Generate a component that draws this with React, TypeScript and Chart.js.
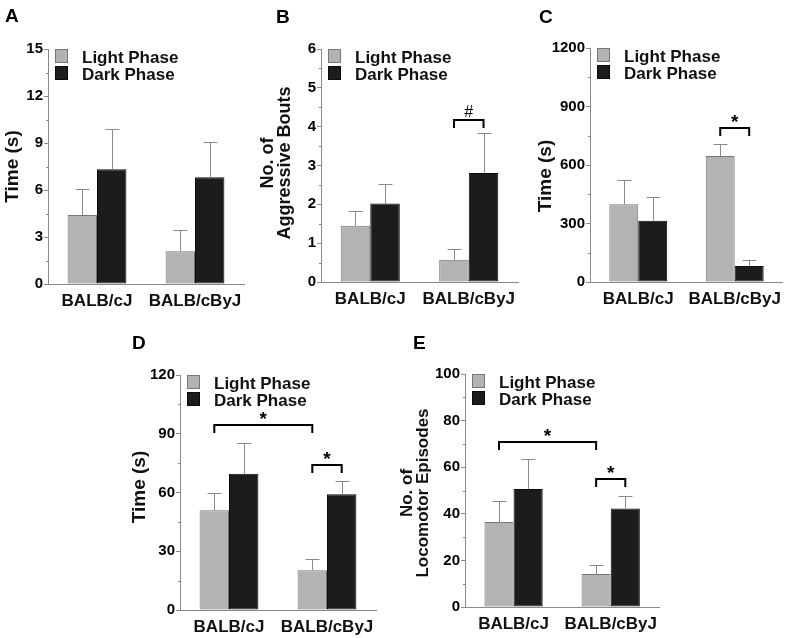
import React, { useEffect, useRef } from 'react';
import { Chart, registerables } from 'chart.js';

Chart.register(...registerables);
Chart.defaults.font.family = "'Liberation Sans', Arial, Helvetica, sans-serif";

// ---------- data ----------
const categories = ['BALB/cJ', 'BALB/cByJ'];
const seriesNames = ['Light Phase', 'Dark Phase'];

// Panel A — Time (s)
const aLight = [4.4, 2.09];
const aLightErr = [1.64, 1.35];
const aDark = [7.32, 6.81];
const aDarkErr = [2.58, 2.24];

// Panel B — No. of Aggressive Bouts
const bLight = [1.45, 0.57];
const bLightErr = [0.39, 0.29];
const bDark = [2.02, 2.81];
const bDarkErr = [0.5, 1.02];

// Panel C — Time (s)
const cLight = [399, 646];
const cLightErr = [122, 64];
const cDark = [314, 82];
const cDarkErr = [123, 29];

// Panel D — Time (s)
const dLight = [50.9, 20.3];
const dLightErr = [8.7, 5.9];
const dDark = [69.6, 59.1];
const dDarkErr = [15.8, 6.9];

// Panel E — No. of Locomotor Episodes
const eLight = [36.5, 14.2];
const eLightErr = [8.9, 3.7];
const eDark = [50.6, 42.3];
const eDarkErr = [12.9, 5.3];

// y-axis ranges: [max, major step, minor step]
const aAxis = [15, 3, 1.5];
const bAxis = [6, 1, 0.5];
const cAxis = [1200, 300, 150];
const dAxis = [120, 30, 15];
const eAxis = [100, 20, 10];

// significance brackets: from/to = [datasetIndex, categoryIndex]
type Bracket = { from: [number, number]; to: [number, number]; top: number; label: string };
const aBrackets: Bracket[] = [];
const bBrackets: Bracket[] = [{ from: [0, 1], to: [1, 1], top: 4.18, label: '#' }];
const cBrackets: Bracket[] = [{ from: [0, 1], to: [1, 1], top: 792, label: '*' }];
const dBrackets: Bracket[] = [
  { from: [0, 0], to: [0, 1], top: 94.3, label: '*' },
  { from: [0, 1], to: [1, 1], top: 73.9, label: '*' },
];
const eBrackets: Bracket[] = [
  { from: [0, 0], to: [0, 1], top: 70.8, label: '*' },
  { from: [0, 1], to: [1, 1], top: 54.9, label: '*' },
];

// ---------- style ----------
const LIGHT_FILL = '#b3b3b3';
const LIGHT_BORDER = '#767676';
const DARK_FILL = '#1c1c1c';
const DARK_BORDER = '#0a0a0a';
const AXIS = '#8a8a8a';
const ERR = '#8a8a8a';
const TEXT = '#111111';

type PanelCfg = {
  letter: string;
  letterX: number;
  letterY: number;
  left: number;
  top: number;
  width: number;
  height: number;
  plotL: number;
  plotR: number;
  plotT: number;
  plotB: number;
  title: string[];
  titleSize: number;
  titleXs: number[];
  titleY: number;
  axis: number[];
  light: number[];
  lightErr: number[];
  dark: number[];
  darkErr: number[];
  brackets: Bracket[];
};

const panels: PanelCfg[] = [
  {
    letter: 'A', letterX: 5, letterY: 8,
    left: 0, top: 0, width: 255, height: 310,
    plotL: 48, plotR: 244, plotT: 49, plotB: 284,
    title: ['Time (s)'], titleSize: 19, titleXs: [13], titleY: 166.5,
    axis: aAxis, light: aLight, lightErr: aLightErr, dark: aDark, darkErr: aDarkErr, brackets: aBrackets,
  },
  {
    letter: 'B', letterX: 276, letterY: 9,
    left: 255, top: 0, width: 270, height: 310,
    plotL: 321, plotR: 518, plotT: 49, plotB: 282,
    title: ['No. of', 'Aggressive Bouts'], titleSize: 18, titleXs: [268.5, 284.7], titleY: 163,
    axis: bAxis, light: bLight, lightErr: bLightErr, dark: bDark, darkErr: bDarkErr, brackets: bBrackets,
  },
  {
    letter: 'C', letterX: 539, letterY: 9,
    left: 525, top: 0, width: 264, height: 310,
    plotL: 590, plotR: 785, plotT: 48, plotB: 282,
    title: ['Time (s)'], titleSize: 19, titleXs: [546], titleY: 176,
    axis: cAxis, light: cLight, lightErr: cLightErr, dark: cDark, darkErr: cDarkErr, brackets: cBrackets,
  },
  {
    letter: 'D', letterX: 132, letterY: 335,
    left: 125, top: 320, width: 265, height: 318,
    plotL: 180, plotR: 376, plotT: 375, plotB: 610,
    title: ['Time (s)'], titleSize: 19, titleXs: [140], titleY: 487,
    axis: dAxis, light: dLight, lightErr: dLightErr, dark: dDark, darkErr: dDarkErr, brackets: dBrackets,
  },
  {
    letter: 'E', letterX: 413, letterY: 335,
    left: 390, top: 320, width: 275, height: 318,
    plotL: 465, plotR: 661, plotT: 374, plotB: 607,
    title: ['No. of', 'Locomotor Episodes'], titleSize: 17, titleXs: [407, 423], titleY: 493,
    axis: eAxis, light: eLight, lightErr: eLightErr, dark: eDark, darkErr: eDarkErr, brackets: eBrackets,
  },
];

function makeOverlay(cfg: PanelCfg) {
  return {
    id: 'overlay' + cfg.letter,
    afterDraw(chart: any) {
      const ctx: CanvasRenderingContext2D = chart.ctx;
      const ys = chart.scales.y;
      const area = chart.chartArea;
      const ox = cfg.left;
      const oy = cfg.top;
      ctx.save();

      // minor ticks
      const [max, major, minor] = cfg.axis;
      ctx.strokeStyle = AXIS;
      ctx.lineWidth = 1;
      for (let v = minor; v < max; v += minor) {
        if (Math.abs(v / major - Math.round(v / major)) < 1e-6) continue;
        const y = Math.round(ys.getPixelForValue(v)) + 0.5;
        ctx.beginPath();
        ctx.moveTo(area.left - 2, y);
        ctx.lineTo(area.left, y);
        ctx.stroke();
      }

      // error bars (upper only)
      const errs = [cfg.lightErr, cfg.darkErr];
      const means = [cfg.light, cfg.dark];
      ctx.strokeStyle = ERR;
      ctx.lineWidth = 1;
      for (let d = 0; d < 2; d++) {
        const meta = chart.getDatasetMeta(d);
        meta.data.forEach((el: any, i: number) => {
          const x = Math.round(el.x) + 0.5;
          const yTop = Math.round(ys.getPixelForValue(means[d][i] + errs[d][i])) + 0.5;
          ctx.beginPath();
          ctx.moveTo(x, el.y);
          ctx.lineTo(x, yTop);
          ctx.moveTo(x - 7, yTop);
          ctx.lineTo(x + 7, yTop);
          ctx.stroke();
        });
      }

      // significance brackets
      cfg.brackets.forEach((b) => {
        const x1 = chart.getDatasetMeta(b.from[0]).data[b.from[1]].x;
        const x2 = chart.getDatasetMeta(b.to[0]).data[b.to[1]].x;
        const y = Math.round(ys.getPixelForValue(b.top));
        ctx.strokeStyle = '#000';
        ctx.lineWidth = 2;
        ctx.beginPath();
        ctx.moveTo(x1, y + 8);
        ctx.lineTo(x1, y);
        ctx.lineTo(x2, y);
        ctx.lineTo(x2, y + 8);
        ctx.stroke();
        ctx.fillStyle = '#000';
        ctx.font = b.label === '*' ? "bold 19px 'Liberation Sans', Arial" : "16px 'Liberation Sans', Arial";
        ctx.textAlign = 'center';
        ctx.textBaseline = 'alphabetic';
        const m = ctx.measureText(b.label);
        const inkC = (m.actualBoundingBoxAscent - m.actualBoundingBoxDescent) / 2;
        ctx.fillText(b.label, (x1 + x2) / 2, y - 9.5 + inkC);
      });

      // legend
      const lx = area.left + 7;
      const swatches = [
        [LIGHT_FILL, LIGHT_BORDER],
        [DARK_FILL, DARK_BORDER],
      ];
      ctx.font = "bold 17px 'Liberation Sans', Arial";
      ctx.textAlign = 'left';
      ctx.textBaseline = 'alphabetic';
      seriesNames.forEach((name, i) => {
        const sy = area.top + i * 17;
        ctx.fillStyle = swatches[i][0];
        ctx.fillRect(lx, sy, 13, 14);
        ctx.strokeStyle = swatches[i][1];
        ctx.lineWidth = 1;
        ctx.strokeRect(lx + 0.5, sy + 0.5, 12, 13);
        ctx.fillStyle = TEXT;
        ctx.fillText(name, area.left + 34, sy + 14);
      });

      // y-axis title
      ctx.font = `bold ${cfg.titleSize}px 'Liberation Sans', Arial`;
      ctx.fillStyle = TEXT;
      ctx.textAlign = 'center';
      ctx.textBaseline = 'middle';
      cfg.title.forEach((line, i) => {
        ctx.save();
        ctx.translate(cfg.titleXs[i] - ox, cfg.titleY - oy);
        ctx.rotate(-Math.PI / 2);
        ctx.fillText(line, 0, 0);
        ctx.restore();
      });

      // panel letter
      ctx.font = "bold 19px 'Liberation Sans', Arial";
      ctx.textAlign = 'left';
      ctx.textBaseline = 'alphabetic';
      ctx.fillStyle = '#000';
      ctx.fillText(cfg.letter, cfg.letterX - ox, cfg.letterY - oy + 13.6);

      ctx.restore();
    },
  };
}

function Panel({ cfg }: { cfg: PanelCfg }) {
  const ref = useRef<HTMLCanvasElement | null>(null);
  useEffect(() => {
    if (!ref.current) return;
    const [max, major] = cfg.axis;
    const chart = new Chart(ref.current, {
      type: 'bar',
      data: {
        labels: categories,
        datasets: [
          {
            label: seriesNames[0],
            data: cfg.light,
            backgroundColor: LIGHT_FILL,
            borderColor: LIGHT_BORDER,
            borderWidth: 1,
            borderSkipped: false,
            categoryPercentage: 0.6,
            barPercentage: 1.0,
          },
          {
            label: seriesNames[1],
            data: cfg.dark,
            backgroundColor: DARK_FILL,
            borderColor: DARK_BORDER,
            borderWidth: 1,
            borderSkipped: false,
            categoryPercentage: 0.6,
            barPercentage: 1.0,
          },
        ],
      },
      options: {
        animation: false,
        responsive: false,
        maintainAspectRatio: false,
        devicePixelRatio: 1,
        events: [],
        layout: {
          padding: {
            left: 0,
            top: cfg.plotT - cfg.top,
            right: cfg.left + cfg.width - cfg.plotR,
            bottom: 0,
          },
        },
        plugins: {
          legend: { display: false },
          tooltip: { enabled: false },
          title: { display: false },
        },
        scales: {
          x: {
            grid: { display: true, drawOnChartArea: false, drawTicks: false },
            border: { display: true, color: AXIS, width: 1 },
            ticks: { color: TEXT, font: { size: 17, weight: 700 }, padding: 7, maxRotation: 0, autoSkip: false },
            afterFit: (s: any) => {
              s.height = cfg.top + cfg.height - cfg.plotB;
            },
          },
          y: {
            min: 0,
            max: max,
            ticks: {
              stepSize: major,
              color: '#000000',
              font: { size: 15, weight: 700 },
              padding: 1,
              callback: (v: any) => String(v),
            },
            grid: { display: true, drawOnChartArea: false, drawTicks: true, tickLength: 4, color: AXIS },
            border: { display: true, color: AXIS, width: 1 },
            afterFit: (s: any) => {
              s.width = cfg.plotL - cfg.left;
            },
          },
        },
      } as any,
      plugins: [makeOverlay(cfg)],
    });
    return () => chart.destroy();
  }, [cfg]);
  return (
    <canvas
      ref={ref}
      width={cfg.width}
      height={cfg.height}
      style={{ position: 'absolute', left: cfg.left, top: cfg.top, width: cfg.width, height: cfg.height }}
    />
  );
}

export default function App() {
  return (
    <div style={{ position: 'absolute', left: 0, top: 0, width: 789, height: 638, background: '#ffffff', overflow: 'hidden' }}>
      {panels.map((p) => (
        <Panel key={p.letter} cfg={p} />
      ))}
    </div>
  );
}
